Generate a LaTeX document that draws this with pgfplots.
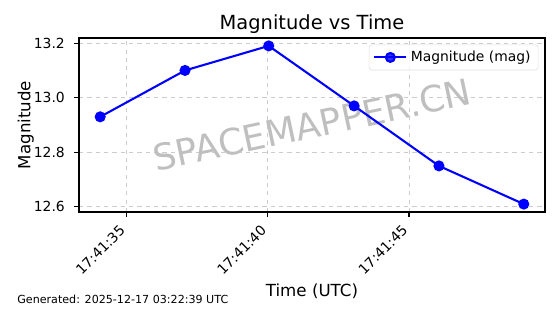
\documentclass[border=0pt]{standalone}
\usepackage{fontspec}
\setmainfont{DejaVu Sans}
\usepackage{pgfplots}
\pgfplotsset{compat=1.18}
\definecolor{mplblue}{rgb}{0,0,1}
\begin{document}
\begin{tikzpicture}
\begin{axis}[
  scale only axis,
  width=335.5pt, height=125.3pt,
  xmin=33.33, xmax=49.81, ymin=12.581, ymax=13.219,
  xtick={35,40,45},
  xticklabels={\mbox{17:41:35},\mbox{17:41:40},\mbox{17:41:45}},
  ytick={12.6,12.8,13.0,13.2},
  /pgf/number format/assume math mode=true,
  yticklabel={\pgfmathprintnumber[fixed,fixed zerofill,precision=1]{\tick}},
  tick label style={font=\fontsize{10}{12}\selectfont, text=black},
  xticklabel style={xshift=-5.5pt, yshift=-5pt, rotate=45, anchor=north east, inner sep=0pt},
  yticklabel style={inner sep=0pt, xshift=-6.5pt},
  tick align=outside,
  major tick length=3.5pt,
  tick style={black, line width=0.8pt},
  xtick pos=bottom, ytick pos=left,
  axis line style={black, line width=0.8pt},
  grid=major,
  major grid style={dashed, gray!40, line width=0.6pt},
  legend style={at={(rel axis cs:0.986,0.962)}, anchor=north east,
    draw=gray!25, rounded corners=2pt, fill=white, fill opacity=0.8, text opacity=1,
    font=\fontsize{10}{12}\selectfont, inner xsep=3pt, inner ysep=2pt,
    nodes={inner xsep=2.5pt, inner ysep=2.5pt}},
  legend image code/.code={\draw[mark repeat=2,mark phase=2,#1] plot coordinates {(0pt,0pt) (11.5pt,0pt) (23pt,0pt)};},
  legend cell align=left,
  clip=false,
]
\node[text=gray!50, rotate=12, font=\fontsize{26}{30}\selectfont] at (rel axis cs:0.5,0.5) {SPACEMAPPER.CN};
\addplot[mplblue, line width=1.5pt, mark=*, mark size=3.2pt, mark options={fill=mplblue, draw=mplblue}]
  coordinates {
  (34.08,12.93)
  (37.08,13.10)
  (40.04,13.19)
  (43.06,12.97)
  (46.06,12.75)
  (49.06,12.61)
  };
\addlegendentry{Magnitude (mag)}
\node[anchor=base, font=\fontsize{14}{17}\selectfont] at ([yshift=6pt]rel axis cs:0.5,1) {Magnitude vs Time};
\node[anchor=base, font=\fontsize{12}{14}\selectfont] at ([yshift=-60.5pt]rel axis cs:0.5,0) {Time (UTC)};
\node[anchor=base, rotate=90, font=\fontsize{12}{14}\selectfont] at ([xshift=-35pt]rel axis cs:0,0.5) {Magnitude};
\node[anchor=base west, font=\fontsize{8}{10}\selectfont, inner sep=0pt] at ([xshift=-44.6pt,yshift=-66.2pt]rel axis cs:0,0) {Generated: 2025-12-17 03:22:39 UTC};
\coordinate (BL) at ([xshift=-56.88pt,yshift=-73.44pt]rel axis cs:0,0);
\end{axis}
\pgfresetboundingbox
\path[use as bounding box] (BL) rectangle ++(403.2pt,226.08pt);
\end{tikzpicture}
\end{document}
